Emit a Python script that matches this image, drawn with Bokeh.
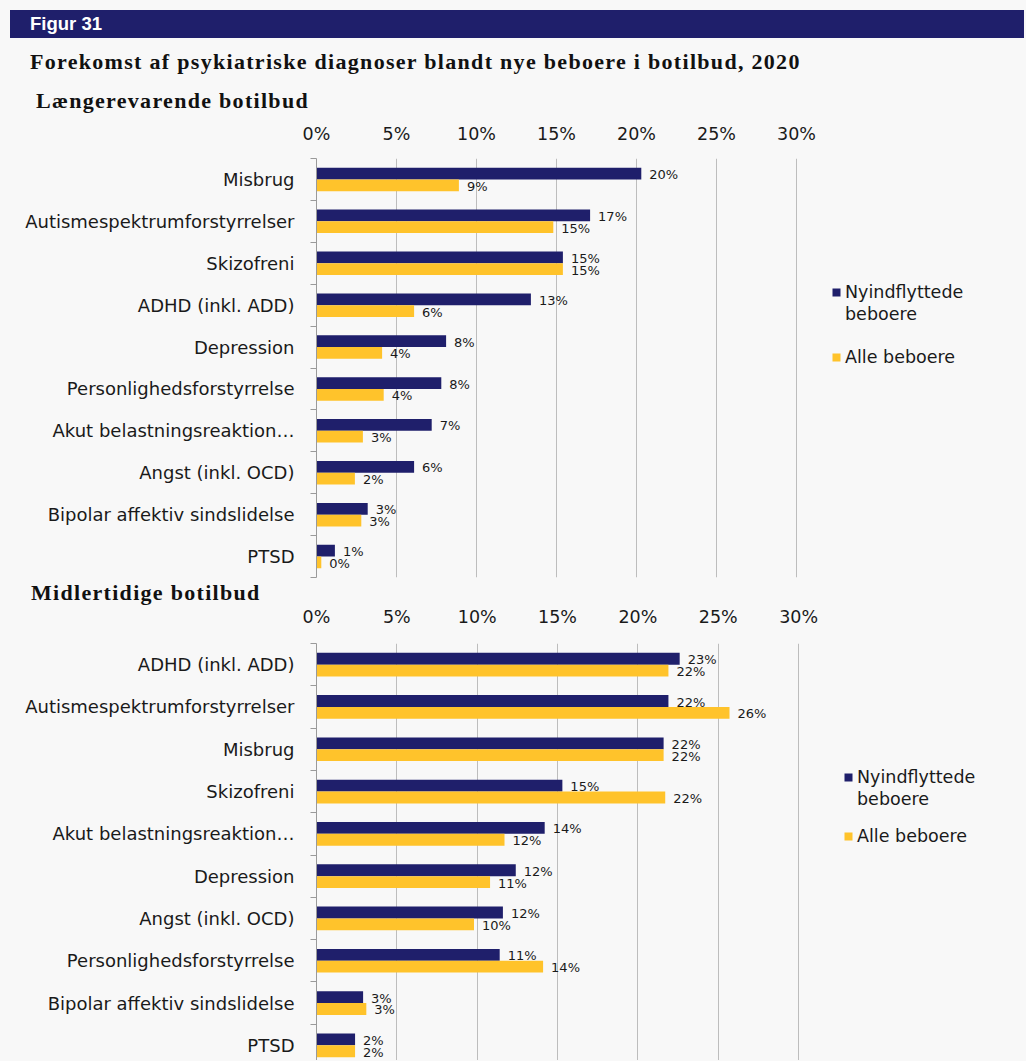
import numpy as np
from bokeh.plotting import figure
from bokeh.models import Range1d, FixedTicker, Legend, LegendItem, Div, ColumnDataSource
from bokeh.layouts import column
from bokeh.core.properties import value
from bokeh.embed import file_html
from bokeh.resources import INLINE

# ---------------- data ----------------
top_categories = ["Misbrug", "Autismespektrumforstyrrelser", "Skizofreni", "ADHD (inkl. ADD)",
                  "Depression", "Personlighedsforstyrrelse", "Akut belastningsreaktion\u2026",
                  "Angst (inkl. OCD)", "Bipolar affektiv sindslidelse", "PTSD"]
top_new = [20.3, 17.1, 15.4, 13.4, 8.1, 7.8, 7.2, 6.1, 3.2, 1.15]
top_all = [8.9, 14.8, 15.4, 6.1, 4.1, 4.2, 2.9, 2.4, 2.8, 0.3]

bot_categories = ["ADHD (inkl. ADD)", "Autismespektrumforstyrrelser", "Misbrug", "Skizofreni",
                  "Akut belastningsreaktion\u2026", "Depression", "Angst (inkl. OCD)",
                  "Personlighedsforstyrrelse", "Bipolar affektiv sindslidelse", "PTSD"]
bot_new = [22.6, 21.9, 21.6, 15.3, 14.2, 12.4, 11.6, 11.4, 2.9, 2.4]
bot_all = [21.9, 25.7, 21.6, 21.7, 11.7, 10.8, 9.8, 14.1, 3.1, 2.4]

tick_values = [0, 5, 10, 15, 20, 25, 30]
tick_labels = ["0%", "5%", "10%", "15%", "20%", "25%", "30%"]

legend_new_lines = ["Nyindflyttede", "beboere"]
legend_all = "Alle beboere"

main_title = "Forekomst af psykiatriske diagnoser blandt nye beboere i botilbud, 2020"
header = "Figur 31"
sub1 = "L\u00e6ngerevarende botilbud"
sub2 = "Midlertidige botilbud"

# ---------------- style ----------------
NAVY = "#1F1F6B"
GOLD = "#FFC32B"
BG = "#F8F8F8"
GRID = "#BDBDBD"
AXIS = "#9A9A9A"
TXT = "#1A1A1A"
SANS = "DejaVu Sans"
SERIF = "Liberation Serif"
W = 1024

try:
    from bokeh.models import GlobalInlineStyleSheet
    gss = [GlobalInlineStyleSheet(css="html, body{background:%s;}" % BG)]
except Exception:
    gss = []


def make_legend(items, loc, spacing):
    return Legend(items=items, location=loc, padding=0, margin=0, border_line_color=None,
                  background_fill_alpha=0, glyph_width=10, glyph_height=10, label_height=21,
                  label_standoff=4, spacing=spacing, label_text_font=SANS,
                  label_text_font_size="17.5px", label_text_color=TXT)


def make_chart(cats, new, alle, left_b, top_b, bottom_b, frame_h, px_pct, px_band,
               x_standoff, leg_a, leg_b):
    n = len(cats)
    idx = np.arange(n, dtype=float)
    frame_w = W - left_b
    p = figure(frame_width=frame_w, frame_height=frame_h,
               x_range=Range1d(0, frame_w / px_pct),
               y_range=Range1d(-0.5 + frame_h / px_band, -0.5),
               x_axis_location="above", toolbar_location=None, output_backend="svg",
               min_border_left=left_b, min_border_right=0, min_border_top=top_b,
               min_border_bottom=bottom_b, background_fill_color=BG, border_fill_color=BG,
               border_fill_alpha=0, outline_line_color=None, margin=(0, 0, 0, 0))
    src = ColumnDataSource(dict(
        y_new=idx - 0.14, y_all=idx + 0.14, new=new, alle=alle,
        lab_new=[f"{round(v)}%" for v in new], lab_all=[f"{round(v)}%" for v in alle]))
    r1 = p.hbar(y="y_new", left=0, right="new", height=0.28, fill_color=NAVY,
                line_color=None, source=src)
    r2 = p.hbar(y="y_all", left=0, right="alle", height=0.28, fill_color=GOLD,
                line_color=None, source=src)
    r_blank = p.hbar(y=[], left=0, right=[], height=0.28, fill_alpha=0, line_alpha=0)
    for xcol, ycol, lcol in (("new", "y_new", "lab_new"), ("alle", "y_all", "lab_all")):
        p.text(x=xcol, y=ycol, text=lcol, source=src, x_offset=8, y_offset=1,
               text_align="left", text_baseline="middle", text_font=value(SANS),
               text_font_size="13px", text_color=TXT)

    xa = p.xaxis[0]
    xa.ticker = FixedTicker(ticks=tick_values)
    xa.major_label_overrides = {float(k): v for k, v in zip(tick_values, tick_labels)}
    xa.axis_line_color = None
    xa.major_tick_line_color = None
    xa.minor_tick_line_color = None
    xa.major_tick_out = 0
    xa.major_label_standoff = x_standoff
    xa.major_label_text_font = SANS
    xa.major_label_text_font_size = "17.5px"
    xa.major_label_text_color = TXT

    p.xgrid.ticker = FixedTicker(ticks=tick_values)
    p.xgrid.grid_line_color = GRID
    p.ygrid.grid_line_color = None

    ya = p.yaxis[0]
    ya.ticker = FixedTicker(ticks=list(idx), minor_ticks=list(idx - 0.5) + [n - 0.5])
    ya.major_label_overrides = {float(i): c for i, c in zip(idx, cats)}
    ya.major_tick_line_color = None
    ya.major_tick_out = 0
    ya.major_tick_in = 0
    ya.minor_tick_out = 6
    ya.minor_tick_in = 0
    ya.minor_tick_line_color = AXIS
    ya.axis_line_color = AXIS
    ya.major_label_standoff = 16
    ya.major_label_text_font = SANS
    ya.major_label_text_font_size = "18px"
    ya.major_label_text_color = TXT

    p.add_layout(make_legend([LegendItem(label=legend_new_lines[0], renderers=[r1]),
                              LegendItem(label=legend_new_lines[1], renderers=[r_blank])],
                             leg_a, 1))
    p.add_layout(make_legend([LegendItem(label=legend_all, renderers=[r2])], leg_b, 0))
    return p


p1 = make_chart(top_categories, top_new, top_all, 312, 40, 2, 419, 16.0, 41.9, 15,
                (531, 253), (531, 210))
p2 = make_chart(bot_categories, bot_new, bot_all, 316, 38, 0, 417, 16.07, 42.3, 17,
                (527, 251), (527, 214))

ser = f"position:absolute;color:#111;font-family:'{SERIF}';font-weight:bold;font-size:22px;" \
      f"line-height:22px;letter-spacing:1.3px;white-space:nowrap;"

div1 = Div(width=W, height=118, margin=(0, 0, 0, 0), stylesheets=gss, text=f"""
<div style="position:relative;width:{W}px;height:118px;background:{BG};">
  <div style="position:absolute;left:10px;top:10px;width:{W - 10}px;height:28px;background:{NAVY};"></div>
  <div style="position:absolute;left:30px;top:10px;height:28px;line-height:28px;color:#ffffff;
       font-family:'Liberation Sans';font-weight:bold;font-size:18.5px;white-space:nowrap;">{header}</div>
  <div style="{ser}left:30px;top:51px;">{main_title}</div>
  <div style="{ser}left:36px;top:90px;">{sub1}</div>
</div>""")

div2 = Div(width=W, height=24, margin=(0, 0, 0, 0), text=f"""
<div style="position:relative;width:{W}px;height:24px;background:{BG};">
  <div style="{ser}left:31px;top:3px;">{sub2}</div>
</div>""")

layout = column(div1, p1, div2, p2, spacing=0, margin=(0, 0, 0, 0))

open("out.html", "w").write(file_html(layout, INLINE))
